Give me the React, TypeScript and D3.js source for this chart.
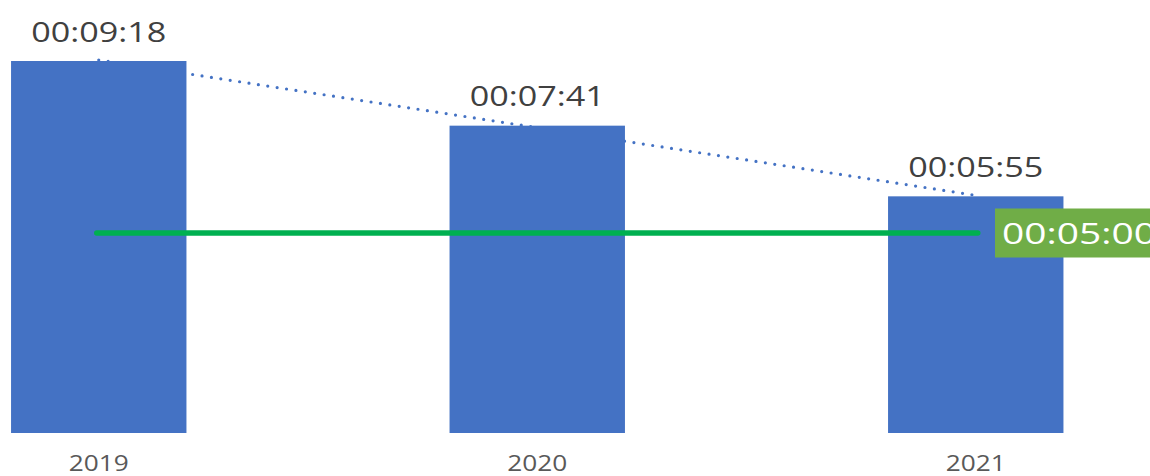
import * as d3 from "d3";

// durations in seconds
const years = ["2019", "2020", "2021"];
const durations = [558, 461, 355]; // 00:09:18, 00:07:41, 00:05:55
const target = 300; // 00:05:00

const W = 1150;
const H = 476;

function fmt(s: number) {
  const h = Math.floor(s / 3600);
  const m = Math.floor((s % 3600) / 60);
  const sec = Math.round(s % 60);
  return [h, m, sec].map((v) => String(v).padStart(2, "0")).join(":");
}

export default function App() {
  const x = d3
    .scaleBand<string>()
    .domain(years)
    .range([-120.5, 1195])
    .paddingInner(0.6)
    .paddingOuter(0.3);

  const y = d3.scaleLinear().domain([0, 600]).range([433, 33]);

  // least squares trend over category index
  const idx = durations.map((_, i) => i);
  const mx = d3.mean(idx) ?? 0;
  const my = d3.mean(durations) ?? 0;
  const slope =
    d3.sum(idx, (i) => (i - mx) * (durations[i] - my)) /
    d3.sum(idx, (i) => (i - mx) * (i - mx));
  const icpt = my - slope * mx;
  const trend = idx.map((i) => ({ year: years[i], v: icpt + slope * i }));

  const cx = (yr: string) => (x(yr) ?? 0) + x.bandwidth() / 2;

  const trendLine = d3
    .line<{ year: string; v: number }>()
    .x((d) => cx(d.year))
    .y((d) => y(d.v));

  const first = years[0];
  const last = years[years.length - 1];
  const font = "'Open Sans', sans-serif";

  return (
    <div style={{ position: "fixed", left: 0, top: 0, width: W, height: H, overflow: "hidden" }}>
      <svg width={W} height={H} style={{ display: "block", background: "#fff" }}>
        {/* trendline behind the bars */}
        <path
          d={trendLine(trend) ?? ""}
          fill="none"
          stroke="#4472C4"
          strokeWidth={3.2}
          strokeDasharray="0 9.5"
          strokeLinecap="round"
        />
        {years.map((yr, i) => (
          <rect
            key={yr}
            x={x(yr)}
            y={y(durations[i])}
            width={x.bandwidth()}
            height={y(0) - y(durations[i])}
            fill="#4472C4"
          />
        ))}
        {/* target line */}
        <line
          x1={cx(first) - 2}
          x2={cx(last) + 2}
          y1={y(target)}
          y2={y(target)}
          stroke="#00B050"
          strokeWidth={5.5}
          strokeLinecap="round"
        />
        <rect x={995} y={y(target) - 24.5} width={160} height={49} fill="#70AD47" />
        <text
          x={1002}
          y={y(target) + 10.5}
          fill="#fff"
          fontFamily={font}
          fontSize={29}
          textLength={154}
          lengthAdjust="spacingAndGlyphs"
        >
          {fmt(target)}
        </text>
        {years.map((yr, i) => (
          <text
            key={"v" + yr}
            x={cx(yr)}
            y={y(durations[i]) - 19.5}
            textAnchor="middle"
            fill="#404040"
            fontFamily={font}
            fontSize={28}
            textLength={135}
            lengthAdjust="spacingAndGlyphs"
          >
            {fmt(durations[i])}
          </text>
        ))}
        {years.map((yr) => (
          <text
            key={"l" + yr}
            x={cx(yr)}
            y={471}
            textAnchor="middle"
            fill="#595959"
            fontFamily={font}
            fontSize={21.5}
            textLength={60}
            lengthAdjust="spacingAndGlyphs"
          >
            {yr}
          </text>
        ))}
      </svg>
    </div>
  );
}
